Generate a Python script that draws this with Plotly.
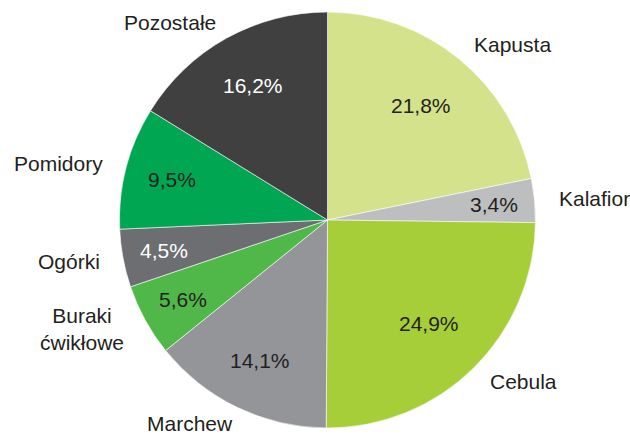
import math
import plotly.graph_objects as go

labels = ["Kapusta", "Kalafior", "Cebula", "Marchew", "Buraki<br>ćwikłowe",
          "Ogórki", "Pomidory", "Pozostałe"]
values = [21.8, 3.4, 24.9, 14.1, 5.6, 4.5, 9.5, 16.2]
colors = ["#d4e28b", "#bcbec0", "#a6ce39", "#939598", "#50b848",
          "#6d6e71", "#00a651", "#404041"]
pct_colors = ["#231f20", "#231f20", "#231f20", "#231f20", "#231f20",
              "#ffffff", "#231f20", "#ffffff"]

W, H = 630, 437
cx, cy, R = 327.5, 220, 208
FS = 21
FONT = "Liberation Sans, Arial, sans-serif"

# approximate Arial advance widths (em) for estimating label extents
CW = {"a": .556, "b": .556, "c": .5, "d": .556, "e": .556, "f": .278, "g": .556,
      "h": .556, "i": .222, "k": .5, "l": .222, "m": .833, "n": .556, "o": .556,
      "p": .556, "r": .333, "s": .5, "t": .278, "u": .556, "w": .722, "y": .5,
      "z": .5, "ł": .222, "ó": .556, "ć": .5, "K": .667, "P": .667, "C": .722,
      "M": .833, "B": .667, "O": .778}


def text_w(t):
    return sum(CW.get(ch, .556) for ch in t) * FS


fig = go.Figure(go.Pie(
    labels=labels, values=values, sort=False, direction="clockwise", rotation=0,
    marker=dict(colors=colors, line=dict(color="#ffffff", width=0.6)),
    textinfo="none", hoverinfo="label+percent", showlegend=False,
    domain=dict(x=[(cx - R) / W, (cx + R) / W],
                y=[1 - (cy + R) / H, 1 - (cy - R) / H]),
))

annotations = []
total = sum(values)
cum = 0.0
for lab, v, pc in zip(labels, values, pct_colors):
    mid = (cum + v / 2) / total * 2 * math.pi
    cum += v
    s, c = math.sin(mid), math.cos(mid)
    # percentage inside the slice
    rp = R * (0.82 - 0.005 * v)
    px, py = cx + rp * s, cy - rp * c
    annotations.append(dict(
        x=px / W, y=1 - py / H, xref="paper", yref="paper",
        text=f"{v:.1f}%".replace(".", ","), showarrow=False,
        font=dict(family=FONT, size=FS, color=pc),
        xanchor="center", yanchor="middle"))
    # category label outside the rim
    hw = max(text_w(t) for t in lab.split("<br>")) / 2
    lx = cx + (R + 24) * s + hw * math.copysign(min(1.0, 2 * abs(s)), s)
    ly = cy - (R + 18) * c
    annotations.append(dict(
        x=lx / W, y=1 - ly / H, xref="paper", yref="paper",
        text=lab, showarrow=False, align="center",
        font=dict(family=FONT, size=FS, color="#231f20"),
        xanchor="center", yanchor="middle"))

fig.update_layout(
    width=W, height=H, margin=dict(l=0, r=0, t=0, b=0),
    paper_bgcolor="#ffffff", plot_bgcolor="#ffffff",
    annotations=annotations,
)
fig.write_html("out.html", config={"displayModeBar": False},
               post_script="document.body.style.margin='0';"
                           "document.body.style.overflow='hidden';")
